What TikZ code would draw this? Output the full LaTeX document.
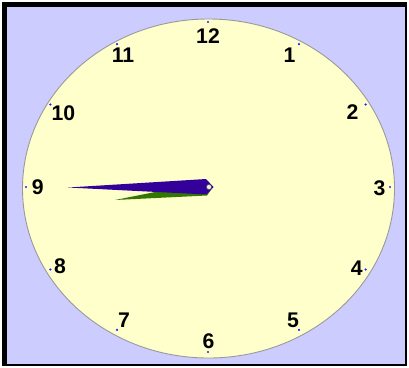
\documentclass[tikz,border=0pt]{standalone}
\usepackage{fontspec}
\setmainfont{Liberation Sans}
\definecolor{bgl}{RGB}{204,204,255}
\definecolor{face}{RGB}{255,255,204}
\definecolor{hourc}{RGB}{51,119,0}
\definecolor{minc}{RGB}{51,0,153}
\definecolor{dotc}{RGB}{30,30,255}
\begin{document}
\begin{tikzpicture}[x=1pt,y=-1pt,
  numlab/.style={font=\fontsize{21.2}{21.2}\selectfont\bfseries, inner sep=0pt},
  tickdot/.style={fill=dotc, circle, inner sep=0pt, minimum size=2.4pt}]
\useasboundingbox (0,0) rectangle (409,367);
\fill[white] (0,0) rectangle (409,367);
\fill[black] (2,2) rectangle (407,366);
\fill[bgl] (7,7) rectangle (405,364);
\draw[fill=face, draw=gray!80, line width=0.9pt] (208.5,188.5) ellipse [x radius=186pt, y radius=169.5pt];
\foreach \i in {1,...,12} {
  \node[tickdot] (d\i) at ({208+182*sin(30*\i)}, {187-165*cos(30*\i)}) {};
}
\foreach \i/\x/\y in {12/208/36, 1/289.5/55, 2/352.5/112, 3/379.5/188, 4/356.7/268.5, 5/293/320,
  6/208.5/341, 7/124/320, 8/60/266, 9/37.8/187.5, 10/63.3/113.3, 11/123/55} {
  \node[numlab] (n\i) at (\x,\y) {\i};
}
\coordinate (c) at (209,187);
\fill[hourc] (115,200) -- (205,182) -- (213,187) -- (207,195.5) -- cycle;
\fill[minc] (68,187.5) -- (206,179) -- (213.5,187) -- (206.5,194.5) -- cycle;
\draw[fill=white!85!gray, draw=gray!60!black, line width=0.6pt] (c) circle [radius=2.6pt];
\end{tikzpicture}
\end{document}
